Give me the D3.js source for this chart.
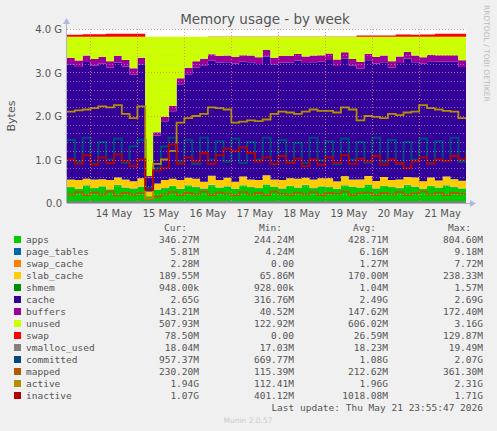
<!DOCTYPE html>
<html><head><meta charset="utf-8">
<script src="https://cdn.jsdelivr.net/npm/d3@7"></script>
<style>body{margin:0;background:#f0f0f0}svg{display:block}</style>
</head><body>
<script>
const G = 1024*1024*1024;
const startTime = new Date(2026,4,13,12,0);
const stepHours = 4;
const dayTicks = ["14 May","15 May","16 May","17 May","18 May","19 May","20 May","21 May"];
const yTicks = ["0.0","1.0 G","2.0 G","3.0 G","4.0 G"];
const apps=[0.36,0.32,0.40,0.34,0.38,0.31,0.41,0.35,0.33,0.37, 0.15,0.30,0.34,0.39,0.32,0.40,0.36,0.33,0.41,0.35, 0.38,0.32,0.40,0.36,0.34,0.42,0.37,0.33,0.39,0.35, 0.41,0.34,0.38,0.36,0.32,0.40,0.37,0.35,0.42,0.33, 0.39,0.36,0.34,0.41,0.37,0.32,0.39,0.35,0.40,0.36, 0.33,0.35];
const page_tables=[0.006,0.006,0.006,0.006,0.006,0.006,0.006,0.006,0.006,0.006, 0.004,0.005,0.006,0.006,0.006,0.006,0.006,0.006,0.006,0.006, 0.006,0.006,0.006,0.006,0.006,0.006,0.006,0.006,0.006,0.006, 0.006,0.006,0.006,0.006,0.006,0.006,0.006,0.006,0.006,0.006, 0.006,0.006,0.006,0.006,0.006,0.006,0.006,0.006,0.006,0.006, 0.006,0.006];
const swap_cache=[0.001,0.001,0.002,0.001,0.001,0.002,0.001,0.001,0.002,0.001, 0.007,0.003,0.001,0.001,0.001,0.001,0.001,0.001,0.001,0.001, 0.001,0.001,0.001,0.001,0.001,0.001,0.001,0.001,0.001,0.001, 0.001,0.001,0.001,0.001,0.001,0.001,0.001,0.002,0.002,0.001, 0.001,0.002,0.002,0.002,0.001,0.002,0.002,0.002,0.002,0.002, 0.002,0.002];
const slab_cache=[0.17,0.20,0.15,0.19,0.16,0.21,0.17,0.18,0.16,0.19, 0.10,0.14,0.18,0.16,0.20,0.17,0.19,0.15,0.21,0.17, 0.19,0.16,0.20,0.17,0.18,0.21,0.16,0.19,0.17,0.20, 0.16,0.19,0.18,0.20,0.17,0.21,0.16,0.18,0.19,0.17, 0.20,0.16,0.19,0.18,0.21,0.17,0.19,0.16,0.20,0.18, 0.17,0.19];
const shmem=[0.001,0.001,0.001,0.001,0.001,0.001,0.001,0.001,0.001,0.001, 0.001,0.001,0.001,0.001,0.001,0.001,0.001,0.001,0.001,0.001, 0.001,0.001,0.001,0.001,0.001,0.001,0.001,0.001,0.001,0.001, 0.001,0.001,0.001,0.001,0.001,0.001,0.001,0.001,0.001,0.001, 0.001,0.001,0.001,0.001,0.001,0.001,0.001,0.001,0.001,0.001, 0.001,0.001];
const cache=[2.65,2.60,2.68,2.62,2.66,2.58,2.64,2.60,2.45,2.62, 0.32,1.10,1.35,1.55,2.20,2.38,2.55,2.68,2.64,2.70, 2.66,2.72,2.64,2.70,2.67,2.73,2.65,2.70,2.66,2.72, 2.64,2.70,2.68,2.72,2.65,2.70,2.62,2.55,2.66,2.70, 2.64,2.58,2.68,2.72,2.65,2.70,2.67,2.73,2.64,2.70, 2.62,2.66];
const buffers=[0.15,0.15,0.15,0.15,0.15,0.15,0.15,0.15,0.15,0.15, 0.04,0.08,0.10,0.12,0.14,0.15,0.15,0.15,0.15,0.15, 0.15,0.15,0.15,0.15,0.15,0.15,0.15,0.15,0.15,0.15, 0.15,0.15,0.15,0.15,0.15,0.15,0.15,0.15,0.15,0.15, 0.15,0.15,0.15,0.15,0.15,0.15,0.15,0.15,0.15,0.15, 0.15,0.15];
const unused=[0.482,0.542,0.432,0.512,0.462,0.562,0.442,0.532,0.722,0.482, 3.202,2.192,1.842,1.592,0.952,0.712,0.562,0.502,0.402,0.442, 0.432,0.462,0.422,0.432,0.472,0.302,0.482,0.442,0.442,0.392, 0.452,0.432,0.422,0.382,0.522,0.352,0.512,0.582,0.392,0.462, 0.432,0.562,0.452,0.352,0.432,0.472,0.412,0.422,0.422,0.422, 0.542,0.462];
const swap=[0.05,0.05,0.06,0.06,0.06,0.07,0.07,0.07,0.07,0.07, 0,0,0,0,0,0,0,0,0.008,0.008, 0.008,0.008,0.008,0.008,0.008,0.008,0.008,0.008,0.008,0.008, 0.008,0.008,0.008,0.008,0.008,0.008,0.008,0.03,0.03,0.03, 0.03,0.03,0.05,0.05,0.05,0.05,0.05,0.07,0.07,0.07, 0.07,0.07];
const vmalloc_used=[0.018,0.018,0.018,0.018,0.018,0.018,0.018,0.018,0.018,0.018, 0.017,0.017,0.018,0.018,0.018,0.018,0.018,0.018,0.018,0.018, 0.018,0.018,0.018,0.018,0.018,0.018,0.018,0.018,0.018,0.018, 0.018,0.018,0.018,0.018,0.018,0.018,0.018,0.018,0.018,0.018, 0.018,0.018,0.018,0.018,0.018,0.018,0.018,0.018,0.018,0.018, 0.018,0.018];
const committed=[1.45,0.95,1.50,0.90,1.40,1.00,1.48,0.92,1.30,1.45, 0.35,0.80,1.30,1.50,0.95,1.45,0.90,1.50,1.00,1.42, 0.95,1.48,0.92,1.40,1.00,1.50,0.90,1.45,0.95,1.38, 0.92,1.50,0.98,1.42,0.90,1.48,1.00,1.40,0.93,1.50, 0.95,1.45,0.90,1.40,1.00,1.48,0.92,1.42,0.96,1.50, 0.95,1.20];
const mapped=[0.20,0.25,0.18,0.24,0.20,0.26,0.17,0.23,0.20,0.22, 0.10,0.15,0.20,0.25,0.18,0.23,0.20,0.26,0.19,0.24, 0.21,0.18,0.25,0.20,0.23,0.18,0.26,0.21,0.19,0.24, 0.20,0.25,0.18,0.23,0.21,0.26,0.19,0.22,0.24,0.18, 0.23,0.20,0.25,0.19,0.22,0.26,0.20,0.24,0.18,0.23, 0.21,0.23];
const active=[2.10,2.13,2.15,2.18,2.22,2.20,2.25,2.05,1.95,2.22, 0.10,0.90,1.00,1.20,1.85,1.95,2.00,2.05,2.20,2.18, 2.15,1.85,1.87,1.90,1.88,1.92,2.05,2.10,2.08,2.05, 2.10,2.15,2.12,2.12,2.08,2.20,2.15,1.90,2.00,1.98, 1.95,2.05,2.02,2.08,2.10,2.25,2.18,2.15,2.12,2.10, 1.95,1.97];
const inactive=[1.00,0.90,1.10,0.88,1.05,0.92,1.12,0.95,0.85,1.00, 0.30,0.75,0.80,1.35,0.90,1.05,0.95,1.15,0.90,1.10, 1.25,1.20,1.28,1.15,0.95,1.05,0.90,1.08,0.92,1.02, 0.85,1.00,0.88,1.05,0.93,1.10,0.90,1.02,0.95,1.08, 0.88,1.00,0.92,0.80,0.95,1.05,0.90,1.00,0.97,1.08, 1.00,1.15];

const legendNames=["apps","page_tables","swap_cache","slab_cache","shmem","cache","buffers","unused","swap","vmalloc_used","committed","mapped","active","inactive"];
const legendColors=["#00CC00","#0066B3","#FF8000","#FFCC00","#008F00","#330099","#990099","#CCFF00","#FF0000","#808080","#00487D","#B35A00","#B38F00","#B30000"];
const curV=["346.27M","5.81M","2.28M","189.55M","948.00k","2.65G","143.21M","507.93M","78.50M","18.04M","957.37M","230.20M","1.94G","1.07G"];
const minV=["244.24M","4.24M","0.00","65.86M","928.00k","316.76M","40.52M","122.92M","0.00","17.03M","669.77M","115.39M","112.41M","401.12M"];
const avgV=["428.71M","6.16M","1.27M","170.00M","1.04M","2.49G","147.62M","606.02M","26.59M","18.23M","1.08G","212.62M","1.96G","1018.08M"];
const maxV=["804.60M","9.18M","7.72M","238.33M","1.57M","2.69G","172.40M","3.16G","129.87M","19.49M","2.07G","361.30M","2.31G","1.71G"];

const stackSeries={apps,page_tables,swap_cache,slab_cache,shmem,cache,buffers,unused,swap};
const lineSeries={vmalloc_used,committed,mapped,active,inactive};
const colorOf=n=>legendColors[legendNames.indexOf(n)];

const W=497,H=431, L=67,R=466,T=29,B=203;
const svg=d3.select("body").append("svg").attr("width",W).attr("height",H).style("font-family","DejaVu Sans, sans-serif");
svg.append("rect").attr("width",W).attr("height",H).attr("fill","#f0f0f0");
const times=apps.map((_,i)=>new Date(startTime.getTime()+i*stepHours*3600e3));
const x=d3.scaleTime().domain([startTime,new Date(2026,4,21,23,55)]).range([L,R]);
const y=d3.scaleLinear().domain([0,4*G]).range([B,T]);

svg.append("rect").attr("x",L).attr("y",T).attr("width",R-L).attr("height",B-T).attr("fill","#ffffff");

const rows=times.map((t,i)=>{const o={t};for(const k in stackSeries)o[k]=stackSeries[k][i]*G;return o;});
const stack=d3.stack().keys(Object.keys(stackSeries))(rows);
const area=d3.area().curve(d3.curveStepAfter).x(d=>x(d.data.t)).y0(d=>y(d[0])).y1(d=>y(d[1]));
svg.append("clipPath").attr("id","c").append("rect").attr("x",L).attr("y",T-10).attr("width",R-L).attr("height",B-T+10);
const g=svg.append("g").attr("clip-path","url(#c)");
stack.forEach(s=>g.append("path").datum(s).attr("d",area).attr("fill",colorOf(s.key)));

const grid=svg.append("g");
for(let v=0.2;v<4.01;v+=0.2){const yy=Math.round(y(v*G))+0.5;
  const major=Math.abs(v-Math.round(v))<1e-6;
  grid.append("line").attr("x1",L).attr("x2",R).attr("y1",yy).attr("y2",yy)
   .attr("stroke",major?"#e08080":"#c8c8c8").attr("stroke-opacity",major?0.8:0.5).attr("stroke-dasharray","1,2");}
d3.range(14,22).forEach(d=>{const xx=Math.round(x(new Date(2026,4,d,0,0)))+0.5;
  grid.append("line").attr("x1",xx).attr("x2",xx).attr("y1",T).attr("y2",B).attr("stroke","#e08080").attr("stroke-opacity",0.8).attr("stroke-dasharray","1,2");});

const line=d3.line().curve(d3.curveStepAfter).x((d,i)=>x(times[i])).y(d=>y(d*G));
for(const k in lineSeries) g.append("path").datum(lineSeries[k]).attr("d",line).attr("fill","none").attr("stroke",colorOf(k)).attr("stroke-width",k==="committed"?2.2:1.8);

svg.append("line").attr("x1",L).attr("x2",R+6).attr("y1",B+0.5).attr("y2",B+0.5).attr("stroke","#b0b0c8");
svg.append("line").attr("x1",L-0.5).attr("x2",L-0.5).attr("y1",B).attr("y2",T-8).attr("stroke","#b0b0c8");
svg.append("path").attr("d",`M${R+4},${B-3}L${R+10},${B+0.5}L${R+4},${B+4}Z`).attr("fill","#b0b8e0");
svg.append("path").attr("d",`M${L-4},${T-5}L${L-0.5},${T-11}L${L+3},${T-5}Z`).attr("fill","#b0b8e0");
yTicks.forEach((t,i)=>svg.append("text").attr("x",L-5).attr("y",y(i*G)+4).attr("text-anchor","end").attr("font-size",10).attr("fill","#555").text(t));
dayTicks.forEach((t,i)=>{const d=new Date(2026,4,14+i,12,0);
  svg.append("text").attr("x",x(d)).attr("y",B+14).attr("text-anchor","middle").attr("font-size",10).attr("fill","#555").text(t);});
svg.append("text").attr("x",265).attr("y",24).attr("text-anchor","middle").attr("font-size",13.5).attr("fill","#555").text("Memory usage - by week");
svg.append("text").attr("transform","translate(15,116) rotate(-90)").attr("text-anchor","middle").attr("font-size",11).attr("fill","#555").text("Bytes");
svg.append("text").attr("transform","translate(484,5) rotate(90)").attr("font-size",7.5).attr("fill","#bbb").text("RRDTOOL / TOBI OETIKER");

const mono="DejaVu Sans Mono, monospace";
const cols=[199,294,388,483];
["Cur:","Min:","Avg:","Max:"].forEach((h,j)=>svg.append("text").attr("x",cols[j]-12).attr("y",231).attr("text-anchor","end").attr("font-family",mono).attr("font-size",9.5).attr("fill","#555").text(h));
legendNames.forEach((n,i)=>{const yy=243+i*12;
  svg.append("rect").attr("x",14).attr("y",yy-7).attr("width",7).attr("height",7).attr("fill",legendColors[i]);
  svg.append("text").attr("x",26).attr("y",yy).attr("font-family",mono).attr("font-size",9.5).attr("fill","#555").text(n);
  [curV,minV,avgV,maxV].forEach((arr,j)=>svg.append("text").attr("x",cols[j]).attr("y",yy).attr("text-anchor","end").attr("font-family",mono).attr("font-size",9.5).attr("fill","#555").text(arr[i]));});
svg.append("text").attr("x",483).attr("y",411).attr("text-anchor","end").attr("font-family",mono).attr("font-size",9.5).attr("fill","#555").text("Last update: Thu May 21 23:55:47 2026");
svg.append("text").attr("x",248).attr("y",423).attr("text-anchor","middle").attr("font-size",7.5).attr("fill","#ccc").text("Munin 2.0.57");
</script></body></html>
